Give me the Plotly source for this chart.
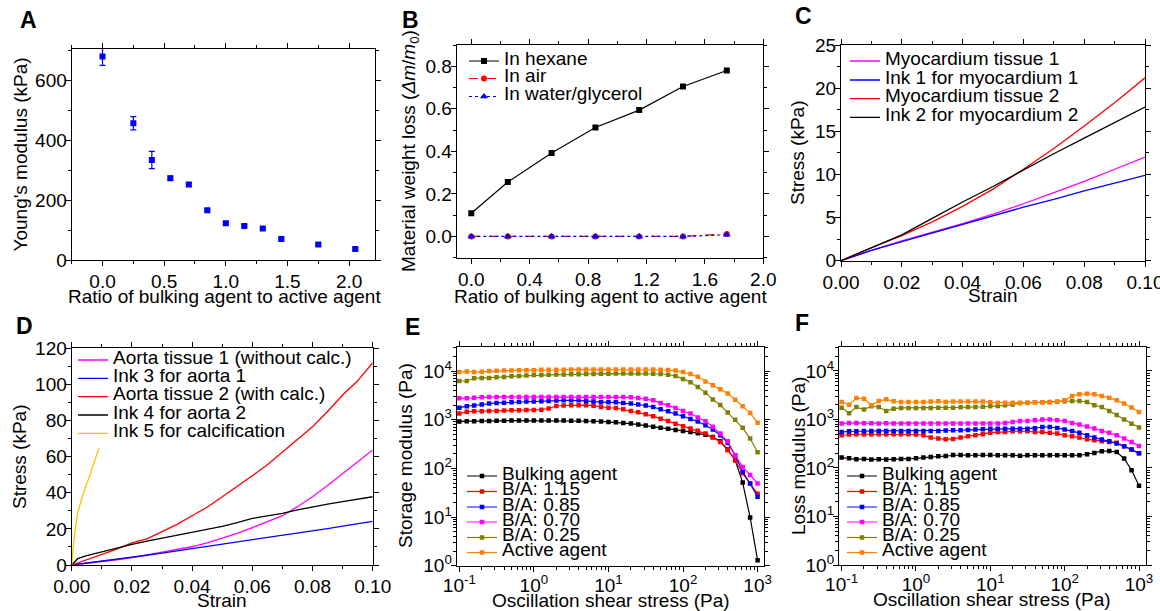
import plotly.graph_objects as go

FONT = "Liberation Sans, Arial, sans-serif"
W, H = 1160, 611
FS = 19

# ---------------- Panel A ----------------
a_ratio = [0.0, 0.25, 0.40, 0.55, 0.70, 0.85, 1.00, 1.15, 1.30, 1.45, 1.75, 2.05]
a_modulus = [680, 457, 334, 273, 252, 166, 123, 114, 105, 70, 52, 37]
a_err = [30, 22, 29, 7, 6, 5, 5, 4, 4, 4, 4, 4]

# ---------------- Panel B ----------------
b_ratio = [0.0, 0.25, 0.55, 0.85, 1.15, 1.45, 1.75]
b_hexane = [0.109, 0.256, 0.392, 0.512, 0.594, 0.705, 0.780]
b_air = [0.0, 0.0, 0.0, 0.0, 0.0, 0.0, 0.012]
b_water = [0.0, 0.0, 0.0, 0.0, 0.0, 0.0, 0.008]
b_names = ["In hexane", "In air", "In water/glycerol"]

# ---------------- Panel C ----------------
c_strain = [0.0, 0.01, 0.02, 0.03, 0.04, 0.05, 0.06, 0.07, 0.08, 0.09, 0.10]
c_myo1 = [0.0, 1.2, 2.3, 3.3, 4.3, 5.4, 6.6, 7.9, 9.2, 10.6, 12.0]
c_ink1 = [0.0, 1.2, 2.2, 3.2, 4.2, 5.2, 6.2, 7.1, 8.1, 9.0, 9.9]
c_myo2 = [0.0, 1.5, 2.9, 4.5, 6.3, 8.3, 10.6, 13.0, 15.6, 18.3, 21.2]
c_ink2 = [0.0, 1.5, 3.0, 4.9, 6.8, 8.6, 10.5, 12.4, 14.2, 16.0, 17.8]
c_names = ["Myocardium tissue 1", "Ink 1 for myocardium 1",
           "Myocardium tissue 2", "Ink 2 for myocardium 2"]

# ---------------- Panel D ----------------
d_strain = [0.0, 0.005, 0.01, 0.015, 0.02, 0.025, 0.03, 0.035, 0.04, 0.045, 0.05,
            0.055, 0.06, 0.065, 0.07, 0.075, 0.08, 0.085, 0.09, 0.095, 0.10]
d_aorta1 = [0.0, 0.9, 1.8, 2.9, 4.1, 5.5, 7.0, 8.5, 10.1, 12.3, 14.8,
            17.5, 20.7, 23.8, 27.3, 32.3, 37.8, 44.0, 50.7, 57.0, 63.7]
d_ink3 = [0.0, 1.0, 2.0, 3.1, 4.2, 5.4, 6.6, 7.8, 9.0, 10.2, 11.4,
          12.6, 13.9, 15.1, 16.4, 17.7, 19.0, 20.2, 21.5, 22.8, 24.2]
d_aorta2 = [0.0, 2.8, 5.9, 8.8, 12.2, 14.5, 18.5, 22.5, 27.3, 32.0, 37.8,
            43.5, 49.4, 55.5, 62.7, 69.5, 76.6, 85.0, 94.1, 102.0, 112.0]
d_strain_ink4 = [0.0, 0.002, 0.005, 0.01, 0.015, 0.02, 0.025, 0.03, 0.035, 0.04, 0.045,
                 0.05, 0.055, 0.06, 0.065, 0.07, 0.075, 0.08, 0.085, 0.09, 0.095, 0.10]
d_ink4 = [0.0, 3.5, 5.2, 7.4, 9.5, 11.4, 13.2, 14.8, 16.5, 18.1, 19.8,
          21.4, 23.5, 25.8, 27.2, 28.6, 30.5, 32.3, 33.7, 35.1, 36.5, 37.8]
d_strain_ink5 = [0.0, 0.0008, 0.002, 0.0039, 0.0061, 0.009]
d_ink5 = [0.0, 15.0, 29.0, 40.0, 50.0, 64.6]
d_names = ["Aorta tissue 1 (without calc.)", "Ink 3 for aorta 1",
           "Aorta tissue 2 (with calc.)", "Ink 4 for aorta 2", "Ink 5 for calcification"]

# ---------------- Panels E / F ----------------
shear = [0.1, 0.126, 0.158, 0.2, 0.251, 0.316, 0.398, 0.501, 0.631, 0.794,
         1.0, 1.26, 1.58, 2.0, 2.51, 3.16, 3.98, 5.01, 6.31, 7.94,
         10.0, 12.6, 15.8, 20.0, 25.1, 31.6, 39.8, 50.1, 63.1, 79.4,
         100, 126, 158, 200, 251, 316, 398, 501, 631, 794, 1000]
rheo_names = ["Bulking agent", "B/A: 1.15", "B/A: 0.85", "B/A: 0.70", "B/A: 0.25", "Active agent"]

e_bulking = [920, 930, 930, 940, 940, 950, 950, 960, 960, 960,
             960, 960, 960, 960, 960, 950, 950, 940, 930, 920,
             900, 885, 858, 832, 794, 759, 714, 682, 652, 615,
             587, 561, 528, 490, 441, 360, 244, 147, 51, 9.8, 1.3]
e_ba115 = [1340, 1450, 1490, 1490, 1510, 1510, 1540, 1560, 1560, 1590,
           1590, 1610, 1700, 1910, 1960, 1990, 1990, 1990, 1940, 1820,
           1760, 1740, 1630, 1510, 1420, 1290, 1180, 1050, 944, 830,
           733, 659, 590, 519, 430, 349, 236, 147, 79, 49, 30]
e_ba085 = [1770, 1900, 1960, 2050, 2140, 2210, 2240, 2280, 2320, 2360,
           2360, 2400, 2430, 2470, 2500, 2500, 2500, 2430, 2360, 2280,
           2280, 2280, 2210, 2140, 2050, 1960, 1820, 1640, 1490, 1340,
           1180, 1035, 915, 768, 630, 480, 333, 186, 85, 49, 26]
e_ba070 = [2750, 2750, 2820, 2880, 2940, 2940, 2940, 2940, 2940, 2940,
           2940, 2940, 2940, 2940, 2940, 2940, 2940, 2940, 2940, 2940,
           2940, 2940, 2940, 2880, 2790, 2680, 2500, 2210, 1990, 1740,
           1510, 1340, 1110, 930, 720, 520, 360, 186, 107, 73, 49]
e_ba025 = [6240, 6240, 7090, 7200, 7200, 7430, 7550, 7800, 7930, 8100,
           8240, 8240, 8400, 8440, 8440, 8580, 8580, 8720, 8720, 8840,
           8840, 8900, 8900, 8900, 8900, 8900, 8800, 8700, 8400, 7900,
           6900, 5900, 4700, 3600, 2600, 2000, 1400, 1000, 680, 410, 215]
e_active = [9530, 9800, 9530, 9700, 10000, 10100, 10300, 10300, 10400, 10400,
            10400, 10600, 10600, 10600, 10600, 10800, 10800, 10800, 10800, 10800,
            10800, 10800, 10800, 10800, 10800, 10700, 10700, 10600, 10500, 10200,
            9500, 8700, 7600, 6100, 5100, 4200, 3450, 2560, 1900, 1380, 870]

f_bulking = [164, 158, 151, 154, 149, 151, 149, 151, 154, 154,
             158, 164, 169, 174, 176, 185, 185, 183, 183, 185,
             185, 183, 183, 183, 178, 183, 183, 183, 183, 183,
             183, 183, 183, 192, 204, 222, 223, 214, 157, 90, 43]
f_ba115 = [473, 490, 496, 496, 496, 496, 496, 496, 496, 496,
           490, 473, 424, 405, 390, 398, 424, 452, 473, 496,
           535, 550, 550, 571, 571, 571, 550, 550, 530, 512,
           473, 452, 424, 390, 372, 355, 345, 333, 280, 240, 200]
f_ba085 = [550, 571, 571, 580, 580, 580, 580, 580, 580, 580,
           580, 580, 580, 580, 590, 600, 600, 610, 620, 630,
           640, 640, 640, 640, 640, 640, 660, 700, 700, 670,
           620, 580, 530, 473, 424, 385, 355, 318, 280, 240, 200]
f_ba070 = [830, 850, 850, 840, 840, 830, 840, 830, 830, 830,
           830, 830, 830, 830, 830, 830, 830, 830, 830, 830,
           830, 830, 850, 890, 930, 930, 960, 1000, 1000, 960,
           930, 850, 785, 720, 650, 580, 530, 473, 405, 345, 285]
f_ba025 = [1750, 1350, 1800, 1600, 1870, 1810, 1500, 1670, 1730, 1730,
           1730, 1730, 1730, 1750, 1750, 1750, 1780, 1800, 1800, 1830,
           1870, 1900, 1960, 2040, 2190, 2220, 2260, 2260, 2290, 2330,
           2370, 2400, 2400, 2290, 1960, 1810, 1500, 1230, 1000, 820, 680]
f_active = [2290, 2020, 2760, 2680, 1960, 2400, 2600, 2370, 2290, 2290,
            2290, 2290, 2340, 2370, 2290, 2340, 2340, 2340, 2340, 2340,
            2260, 2220, 2220, 2220, 2190, 2190, 2260, 2260, 2260, 2330,
            2480, 3030, 3300, 3400, 3300, 3030, 2810, 2480, 2130, 1760, 1430]

RHEO_COLORS = ["#000000", "#FF0000", "#0000FF", "#FF00FF", "#808000", "#FF8000"]

# tick values / labels
a_xticks = [0.0, 0.5, 1.0, 1.5, 2.0]
b_xticks = [0.0, 0.4, 0.8, 1.2, 1.6, 2.0]
strain_ticks = [0.0, 0.02, 0.04, 0.06, 0.08, 0.10]
dec_x_vals = [0.1, 1, 10, 100, 1000]
dec_x_text = ["10<sup>-1</sup>", "10<sup>0</sup>", "10<sup>1</sup>", "10<sup>2</sup>", "10<sup>3</sup>"]
dec_y_vals = [1, 10, 100, 1000, 10000]
dec_y_text = ["10<sup>0</sup>", "10<sup>1</sup>", "10<sup>2</sup>", "10<sup>3</sup>", "10<sup>4</sup>"]
minor_x = [m * 10 ** e for e in range(-1, 3) for m in range(2, 10)] + [0.09]
minor_y = [m * 10 ** e for e in range(0, 5) for m in range(2, 10)]


def px_x(p):
    return p / W


def px_y(p):
    return 1 - p / H


def lg(text):
    return '<span style="font-size:19px">' + text + '</span>'


fig = go.Figure()
legend_specs = []   # (legend id, legend-left x px, centre y px)
_leg_counter = [0]


def new_legend(xleft, ycenter):
    _leg_counter[0] += 1
    n = _leg_counter[0]
    lid = "legend" if n == 1 else "legend%d" % n
    legend_specs.append((lid, xleft, ycenter))
    return lid


# A
fig.add_trace(go.Scatter(
    x=a_ratio, y=a_modulus, mode="markers", xaxis="x", yaxis="y", showlegend=False,
    marker=dict(symbol="square", size=6, color="#0000FF"),
    error_y=dict(type="data", array=a_err, color="#0000FF", thickness=1.2, width=3)))

# B
b_series = [b_hexane, b_air, b_water]
b_styles = [("#000000", "solid", "square", 6), ("#FF0000", "dash", "circle", 6),
            ("#0000FF", "dot", "triangle-up", 7)]
b_leg_y = [61, 78.5, 96.5]
for name, ys, (col, dash, sym, ms), ly in zip(b_names, b_series, b_styles, b_leg_y):
    fig.add_trace(go.Scatter(
        x=b_ratio, y=ys, mode="lines+markers", xaxis="x2", yaxis="y2", name=lg(name),
        legend=new_legend(464, ly), line=dict(color=col, width=1.2, dash=dash),
        marker=dict(symbol=sym, size=ms, color=col)))

# C
c_series = [c_myo1, c_ink1, c_myo2, c_ink2]
c_colors = ["#FF00FF", "#0000FF", "#FF0000", "#000000"]
c_leg_y = [61, 80, 98.7, 117.3]
for name, ys, col, ly in zip(c_names, c_series, c_colors, c_leg_y):
    fig.add_trace(go.Scatter(
        x=c_strain, y=ys, mode="lines", xaxis="x3", yaxis="y3", name=lg(name),
        legend=new_legend(845, ly), line=dict(color=col, width=1.3)))

# D
d_x = [d_strain, d_strain, d_strain, d_strain_ink4, d_strain_ink5]
d_y = [d_aorta1, d_ink3, d_aorta2, d_ink4, d_ink5]
d_colors = ["#FF00FF", "#0000FF", "#FF0000", "#000000", "#FFC000"]
d_leg_y = [360, 378.3, 396.7, 415, 433.3]
for name, xs, ys, col, ly in zip(d_names, d_x, d_y, d_colors, d_leg_y):
    fig.add_trace(go.Scatter(
        x=xs, y=ys, mode="lines", xaxis="x4", yaxis="y4", name=lg(name),
        legend=new_legend(73, ly), line=dict(color=col, width=1.3)))

# E
e_series = [e_bulking, e_ba115, e_ba085, e_ba070, e_ba025, e_active]
e_leg_y = [476, 491.5, 507, 522, 537.5, 552.5]
for name, ys, col, ly in zip(rheo_names, e_series, RHEO_COLORS, e_leg_y):
    fig.add_trace(go.Scatter(
        x=shear, y=ys, mode="lines+markers", xaxis="x5", yaxis="y5", name=lg(name),
        legend=new_legend(462, ly), line=dict(color=col, width=1.2),
        marker=dict(symbol="square", size=4.5, color=col)))

# F
f_series = [f_bulking, f_ba115, f_ba085, f_ba070, f_ba025, f_active]
for name, ys, col, ly in zip(rheo_names, f_series, RHEO_COLORS, e_leg_y):
    fig.add_trace(go.Scatter(
        x=shear, y=ys, mode="lines+markers", xaxis="x6", yaxis="y6", name=lg(name),
        legend=new_legend(842, ly), line=dict(color=col, width=1.2),
        marker=dict(symbol="square", size=4.5, color=col)))


def axis(dom, anchor, letter, lstand=None, **kw):
    d = dict(domain=dom, anchor=anchor, showline=True, linecolor="black", linewidth=1.2,
             mirror="ticks", ticks="outside", ticklen=5, tickwidth=1, tickcolor="black",
             showgrid=False, zeroline=False, automargin=False, ticklabeloverflow="allow",
             ticklabelstandoff=(lstand if lstand is not None else (-5 if letter == "y" else -1)),
             tickfont=dict(family=FONT, size=FS, color="black"))
    d.update(kw)
    return d


def minor(**kw):
    d = dict(ticks="outside", ticklen=3, tickwidth=1, tickcolor="black", showgrid=False)
    d.update(kw)
    return d


# frame boxes (left, right, top, bottom) in pixels
boxes = {
    "A": (71.7, 375.0, 49.0, 260.0),
    "B": (456.7, 763.3, 45.0, 257.7),
    "C": (841.0, 1145.0, 45.0, 260.7),
    "D": (71.7, 372.7, 348.3, 565.0),
    "E": (456.7, 764.3, 346.7, 565.7),
    "F": (839.0, 1145.7, 346.7, 565.0),
}


def dom(key):
    l, r, t, b = boxes[key]
    return [px_x(l), px_x(r)], [px_y(b), px_y(t)]


layout = dict(
    template="none",
    width=W, height=H, margin=dict(l=0, r=0, t=0, b=0, autoexpand=False),
    paper_bgcolor="white", plot_bgcolor="white",
    font=dict(family=FONT, size=FS, color="black"),
)

xA, yA = dom("A")
layout["xaxis"] = axis(xA, "y", "x", range=[-0.25, 2.21], tickmode="array", tickvals=a_xticks,
                       tickformat=".1f", minor=minor(dtick=0.25, tick0=0))
layout["yaxis"] = axis(yA, "x", "y", range=[0, 705], dtick=200, tick0=0,
                       minor=minor(dtick=100))

xB, yB = dom("B")
layout["xaxis2"] = axis(xB, "y2", "x", range=[-0.1, 2.0], tickmode="array", tickvals=b_xticks,
                        tickformat=".1f", minor=minor(dtick=0.2, tick0=0))
layout["yaxis2"] = axis(yB, "x2", "y", range=[-0.1, 0.9], dtick=0.2, tick0=0, tickformat=".1f",
                        minor=minor(dtick=0.1))

xC, yC = dom("C")
layout["xaxis3"] = axis(xC, "y3", "x", range=[0, 0.1], tickmode="array", tickvals=strain_ticks,
                        tickformat=".2f", minor=minor(dtick=0.01, tick0=0))
layout["yaxis3"] = axis(yC, "x3", "y", range=[0, 25], dtick=5, tick0=0,
                        minor=minor(dtick=2.5))

xD, yD = dom("D")
layout["xaxis4"] = axis(xD, "y4", "x", range=[0, 0.1], tickmode="array", tickvals=strain_ticks,
                        tickformat=".2f", minor=minor(dtick=0.01, tick0=0))
layout["yaxis4"] = axis(yD, "x4", "y", range=[0, 120], dtick=20, tick0=0,
                        minor=minor(dtick=10))

for key, xn, yn in [("E", "xaxis5", "yaxis5"), ("F", "xaxis6", "yaxis6")]:
    xd, yd = dom(key)
    xa = "x" + xn[5:]
    ya = "y" + yn[5:]
    layout[xn] = axis(xd, ya, "x", lstand=-3, type="log",
                      range=[-1.035, 3.09], tickmode="array", tickvals=dec_x_vals,
                      ticktext=dec_x_text,
                      minor=minor(tickmode="array", tickvals=minor_x))
    layout[yn] = axis(yd, xa, "y", type="log", range=[0, 4.5], tickmode="array",
                      tickvals=dec_y_vals, ticktext=dec_y_text,
                      minor=minor(tickmode="array", tickvals=minor_y))

for lid, xl, yc in legend_specs:
    layout[lid] = dict(x=px_x(xl), y=px_y(yc), xanchor="left", yanchor="middle",
                       bgcolor="rgba(0,0,0,0)", borderwidth=0, itemwidth=30,
                       font=dict(family=FONT, size=9, color="black"))

annotations = []
letters = [("A", 28, 20), ("B", 410, 20), ("C", 803, 16), ("D", 24, 326), ("E", 412, 327), ("F", 802, 323)]
for t, x, y in letters:
    annotations.append(dict(text="<b>" + t + "</b>", x=px_x(x), y=px_y(y), xref="paper", yref="paper",
                            xanchor="center", yanchor="middle", showarrow=False,
                            font=dict(family=FONT, size=23, color="black")))

ratio_title = "Ratio of bulking agent to active agent"
shear_title = "Oscillation shear stress (Pa)"
# (text, x centre px, y centre px, angle)
axis_titles = [
    (ratio_title, 224, 296, 0),
    ("Young's modulus (kPa)", 20, 154.5, -90),
    (ratio_title, 610, 296, 0),
    ("Material weight loss (<i>Δm</i>/<i>m</i><sub>0</sub>)", 410, 151, -90),
    ("Strain", 993, 295, 0),
    ("Stress (kPa)", 797, 153, -90),
    ("Strain", 222, 600, 0),
    ("Stress (kPa)", 19.5, 456.5, -90),
    (shear_title, 610.5, 600, 0),
    ("Storage modulus (Pa)", 405, 456, -90),
    (shear_title, 992, 599, 0),
    ("Loss modulus (Pa)", 798, 456, -90),
]
for t, x, y, ang in axis_titles:
    annotations.append(dict(text=t, x=px_x(x), y=px_y(y), xref="paper", yref="paper",
                            xanchor="center", yanchor="middle", showarrow=False, textangle=ang,
                            font=dict(family=FONT, size=FS, color="black")))
layout["annotations"] = annotations

fig.update_layout(**layout)
fig.write_html("out.html")
